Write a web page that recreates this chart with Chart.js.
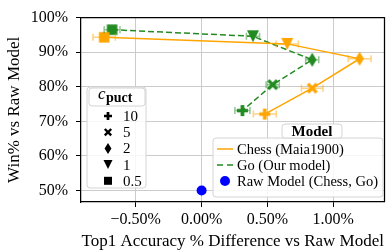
<!DOCTYPE html>
<html>
<head>
<meta charset="utf-8">
<script src="https://cdn.jsdelivr.net/npm/chart.js@4/dist/chart.umd.min.js"></script>
<style>
    html, body { margin: 0; padding: 0; background: #fff; }
    canvas { display: block; }
</style>
</head>
<body>
<canvas id="chart" width="390" height="251"></canvas>
<script>
"use strict";

// c_puct values, in the order the points are joined
const cpuctValues = ["0.5", "1", "2", "5", "10"];
const cpuctMarkers = ["square", "tri", "diamond", "x", "plus"];

// Chess (Maia1900): accuracy diff (%), win rate (%), x error (%)
const chessAcc = [-0.74, 0.65, 1.20, 0.84, 0.48];
const chessWin = [94.3, 92.4, 88.1, 79.6, 72.1];
const chessErr = [0.085, 0.085, 0.087, 0.082, 0.087];

// Go (our model)
const goAcc = [-0.68, 0.39, 0.84, 0.54, 0.31];
const goWin = [96.5, 94.6, 87.8, 80.6, 73.1];
const goErr = [0.06, 0.05, 0.05, 0.05, 0.057];

// raw model, same point for both games
const rawAcc = [0.0];
const rawWin = [50];

const xTicks = [-0.5, 0, 0.5, 1.0];
const yTicks = [50, 60, 70, 80, 90, 100];

const modelLabels = ["Chess (Maia1900)", "Go (Our model)", "Raw Model (Chess, Go)"];

const SERIF = '"Liberation Serif", "Times New Roman", serif';
const ORANGE = "#ffa500";
const GREEN = "#228b22";
const BLUE = "#0000ff";

function drawMarker(ctx, shape, x, y, s, color) {
    ctx.save();
    ctx.fillStyle = color;
    ctx.strokeStyle = color;
    ctx.beginPath();
    if (shape === "square") {
        ctx.rect(x - s / 2, y - s / 2, s, s);
        ctx.fill();
    } else if (shape === "tri") {
        ctx.moveTo(x, y + s / 2);
        ctx.lineTo(x - s / 2, y - s / 2);
        ctx.lineTo(x + s / 2, y - s / 2);
        ctx.closePath();
        ctx.fill();
    } else if (shape === "diamond") {
        const w = s * 0.62;
        ctx.moveTo(x, y - s / 2);
        ctx.lineTo(x + w / 2, y);
        ctx.lineTo(x, y + s / 2);
        ctx.lineTo(x - w / 2, y);
        ctx.closePath();
        ctx.fill();
    } else if (shape === "plus") {
        const t = s * 0.34;
        ctx.rect(x - s / 2, y - t / 2, s, t);
        ctx.rect(x - t / 2, y - s / 2, t, s);
        ctx.fill();
    } else if (shape === "x") {
        const h = s * 0.4;
        ctx.lineWidth = s * 0.3;
        ctx.moveTo(x - h, y - h);
        ctx.lineTo(x + h, y + h);
        ctx.moveTo(x + h, y - h);
        ctx.lineTo(x - h, y + h);
        ctx.stroke();
    }
    ctx.restore();
}

const markerSize = { square: 10.5, tri: 12, diamond: 14, x: 11, plus: 11 };

function markerImage(shape, color) {
    const s = markerSize[shape];
    const c = document.createElement("canvas");
    c.width = Math.ceil(s) + 4;
    c.height = Math.ceil(s) + 4;
    drawMarker(c.getContext("2d"), shape, c.width / 2, c.height / 2, s, color);
    return c;
}

function roundBox(ctx, x, y, w, h, r, fill, stroke) {
    ctx.beginPath();
    ctx.moveTo(x + r, y);
    ctx.arcTo(x + w, y, x + w, y + h, r);
    ctx.arcTo(x + w, y + h, x, y + h, r);
    ctx.arcTo(x, y + h, x, y, r);
    ctx.arcTo(x, y, x + w, y, r);
    ctx.closePath();
    ctx.fillStyle = fill;
    ctx.fill();
    ctx.strokeStyle = stroke;
    ctx.lineWidth = 1;
    ctx.stroke();
}

// horizontal error bars with caps
const errorBars = {
    id: "errorBars",
    afterDatasetsDraw(chart) {
        const ctx = chart.ctx;
        const xs = chart.scales.x;
        chart.data.datasets.forEach((ds, i) => {
            if (!ds.errorX) return;
            const meta = chart.getDatasetMeta(i);
            ctx.save();
            ctx.strokeStyle = ds.errorColor;
            ctx.lineWidth = 1.5;
            meta.data.forEach((pt, j) => {
                const v = ds.data[j].x;
                const x0 = xs.getPixelForValue(v - ds.errorX[j]);
                const x1 = xs.getPixelForValue(v + ds.errorX[j]);
                ctx.beginPath();
                ctx.moveTo(x0, pt.y);
                ctx.lineTo(x1, pt.y);
                ctx.moveTo(x0, pt.y - 3.5);
                ctx.lineTo(x0, pt.y + 3.5);
                ctx.moveTo(x1, pt.y - 3.5);
                ctx.lineTo(x1, pt.y + 3.5);
                ctx.stroke();
            });
            ctx.restore();
        });
    }
};

// top / right spines and the two legends
const extras = {
    id: "extras",
    afterDraw(chart) {
        const ctx = chart.ctx;
        const a = chart.chartArea;
        ctx.save();
        ctx.strokeStyle = "#000";
        ctx.lineWidth = 1.25;
        ctx.beginPath();
        ctx.moveTo(a.left, a.top);
        ctx.lineTo(a.right, a.top);
        ctx.lineTo(a.right, a.bottom);
        ctx.stroke();

        // c_puct legend
        roundBox(ctx, 87, 87, 59, 101, 3, "rgba(255,255,255,0.85)", "#d4d4d4");
        roundBox(ctx, 89, 88, 56, 18, 3, "#fff", "#d4d4d4");
        ctx.fillStyle = "#000";
        ctx.textBaseline = "alphabetic";
        ctx.font = "italic 17px " + SERIF;
        ctx.fillText("c", 98, 99);
        ctx.font = "bold 14px " + SERIF;
        ctx.fillText("puct", 106, 102);
        ctx.font = "15px " + SERIF;
        ctx.textBaseline = "middle";
        const order = [4, 3, 2, 1, 0];
        const legSize = { square: 8, tri: 9, diamond: 11, x: 8, plus: 8 };
        order.forEach((k, r) => {
            const y = 116 + r * 16.2;
            drawMarker(ctx, cpuctMarkers[k], 108, y, legSize[cpuctMarkers[k]], "#000");
            ctx.fillStyle = "#000";
            ctx.fillText(cpuctValues[k], 123, y + 1);
        });

        // model legend
        roundBox(ctx, 213, 138, 170, 59, 3, "rgba(255,255,255,0.85)", "#d4d4d4");
        roundBox(ctx, 282, 124, 60, 14, 3, "#fff", "#d4d4d4");
        ctx.fillStyle = "#000";
        ctx.textAlign = "center";
        ctx.font = "bold 15px " + SERIF;
        ctx.fillText("Model", 312, 132);
        ctx.textAlign = "left";
        ctx.font = "14.5px " + SERIF;
        const rows = [149, 165, 181];
        ctx.lineWidth = 1.5;
        ctx.strokeStyle = ORANGE;
        ctx.beginPath();
        ctx.moveTo(217, rows[0]);
        ctx.lineTo(233, rows[0]);
        ctx.stroke();
        ctx.strokeStyle = GREEN;
        ctx.setLineDash([6, 4]);
        ctx.beginPath();
        ctx.moveTo(217, rows[1]);
        ctx.lineTo(233, rows[1]);
        ctx.stroke();
        ctx.setLineDash([]);
        ctx.fillStyle = BLUE;
        ctx.beginPath();
        ctx.arc(225, rows[2], 5, 0, Math.PI * 2);
        ctx.fill();
        ctx.fillStyle = "#000";
        modelLabels.forEach((t, r) => ctx.fillText(t, 237, rows[r] + 1));
        ctx.restore();
    }
};

const pct = (v) => (v < 0 ? "\u2212" : "") + Math.abs(v).toFixed(2) + "%";

new Chart(document.getElementById("chart"), {
    type: "scatter",
    data: {
        datasets: [
            {
                label: modelLabels[0],
                data: chessAcc.map((v, i) => ({ x: v, y: chessWin[i] })),
                errorX: chessErr,
                errorColor: "rgba(255,165,0,0.5)",
                showLine: true,
                borderColor: ORANGE,
                borderWidth: 1.5,
                pointStyle: cpuctMarkers.map(m => markerImage(m, ORANGE)),
            },
            {
                label: modelLabels[1],
                data: goAcc.map((v, i) => ({ x: v, y: goWin[i] })),
                errorX: goErr,
                errorColor: "rgba(34,139,34,0.5)",
                showLine: true,
                borderColor: GREEN,
                borderWidth: 1.5,
                borderDash: [6, 3],
                pointStyle: cpuctMarkers.map(m => markerImage(m, GREEN)),
            },
            {
                label: modelLabels[2],
                data: rawAcc.map((v, i) => ({ x: v, y: rawWin[i] })),
                pointStyle: "circle",
                pointRadius: 5,
                backgroundColor: BLUE,
                borderColor: BLUE,
                borderWidth: 0,
            },
        ]
    },
    options: {
        responsive: false,
        animation: false,
        layout: { padding: { top: 10, right: 0, left: 0, bottom: 0 } },
        plugins: {
            legend: { display: false },
            tooltip: { enabled: false },
        },
        scales: {
            x: {
                type: "linear",
                min: -0.916,
                max: 1.389,
                afterBuildTicks: (s) => { s.ticks = xTicks.map(v => ({ value: v })); },
                afterFit: (s) => { s.height = 49; },
                ticks: {
                    callback: pct,
                    font: { family: SERIF, size: 16 },
                    color: "#000",
                    padding: 3,
                    maxRotation: 0,
                    autoSkip: false,
                },
                grid: { color: "#cbcbcb", lineWidth: 1, tickLength: 5, tickColor: "#000" },
                border: { color: "#000", width: 1.25 },
                title: {
                    display: true,
                    text: "Top1 Accuracy % Difference vs Raw Model",
                    font: { family: SERIF, size: 17, lineHeight: 1 },
                    color: "#000",
                    padding: { top: 0, bottom: 1 },
                },
            },
            y: {
                min: 46.67,
                max: 100,
                afterBuildTicks: (s) => { s.ticks = yTicks.map(v => ({ value: v })); },
                afterFit: (s) => { s.width = 81; },
                ticks: {
                    callback: (v) => v + "%",
                    font: { family: SERIF, size: 16 },
                    color: "#000",
                    padding: 8,
                },
                grid: { color: "#cbcbcb", lineWidth: 1, tickLength: 5, tickColor: "#000" },
                border: { color: "#000", width: 1.25 },
                title: {
                    display: true,
                    text: "Win% vs Raw Model",
                    font: { family: SERIF, size: 17, lineHeight: 1 },
                    color: "#000",
                    padding: { top: 6, bottom: 0 },
                },
            },
        },
    },
    plugins: [errorBars, extras],
});
</script>
</body>
</html>
